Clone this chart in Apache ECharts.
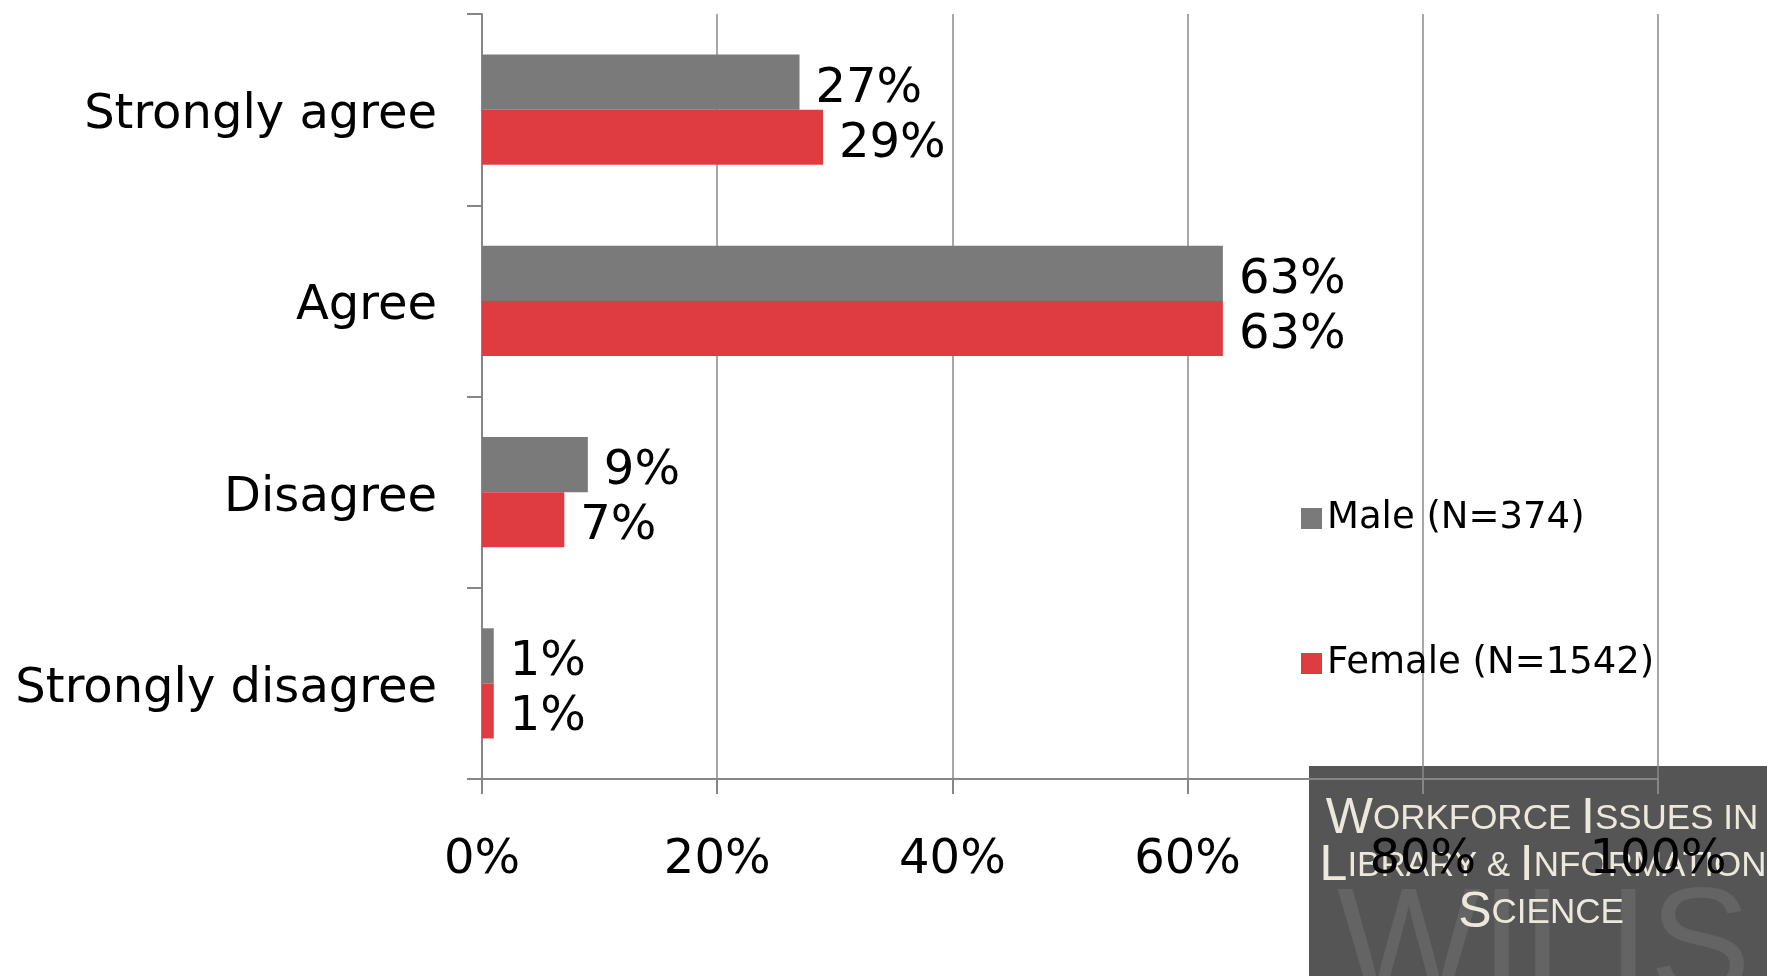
<!DOCTYPE html>
<html>
<head>
<meta charset="utf-8">
<script src="https://cdn.jsdelivr.net/npm/echarts@6/dist/echarts.min.js"></script>
<style>
html,body{margin:0;padding:0;background:#fff;}
#chart{width:1767px;height:976px;}
</style>
</head>
<body>
<div id="chart"></div>
<script>
const categories = ['Strongly agree', 'Agree', 'Disagree', 'Strongly disagree'];
const maleName = 'Male (N=374)';
const femaleName = 'Female (N=1542)';
const maleValues = [27, 63, 9, 1];
const femaleValues = [29, 63, 7, 1];
const xTicks = [0, 20, 40, 60, 80, 100];

const FONT = 'DejaVu Sans';
const chart = echarts.init(document.getElementById('chart'));
const cream = '#ece8dc';
const WMFONT = 'Liberation Sans';
const rich = {
  b: {fontSize: 50, fontFamily: WMFONT, fill: cream, lineHeight: 50},
  s: {fontSize: 35, fontFamily: WMFONT, fill: cream, lineHeight: 42}
};
chart.setOption({
  backgroundColor: '#ffffff',
  animation: false,
  grid: {left: 482, right: 109, top: 14, bottom: 197, containLabel: false},
  legend: {
    orient: 'vertical', left: 1296, top: 495,
    itemWidth: 21, itemHeight: 21, itemGap: 108, icon: 'rect',
    textStyle: {fontFamily: FONT, fontSize: 37, color: '#000'},
    data: [maleName, femaleName]
  },
  xAxis: {
    type: 'value', min: xTicks[0], max: xTicks[xTicks.length - 1], interval: 20,
    axisLine: {show: true, lineStyle: {color: '#868686', width: 2}},
    axisTick: {show: true, length: 15, lineStyle: {color: '#868686', width: 2}},
    splitLine: {show: true, lineStyle: {color: '#8a8a8a', width: 1.5}},
    axisLabel: {formatter: '{value}%', fontFamily: FONT, fontSize: 48, color: '#000', margin: 58}
  },
  yAxis: {
    type: 'category', data: categories, inverse: true,
    axisLine: {show: true, lineStyle: {color: '#868686', width: 2}},
    axisTick: {show: true, length: 15, lineStyle: {color: '#868686', width: 2}},
    axisLabel: {
      margin: 45,
      formatter: v => '{a|' + v + '}',
      rich: {a: {fontFamily: FONT, fontSize: 48, color: '#000', padding: [12, 0, 0, 0]}}
    }
  },
  series: [
    {name: maleName, type: 'bar', data: maleValues, barGap: '0%', barCategoryGap: '42.4%',
     itemStyle: {color: '#7a7a7a'},
     label: {show: true, position: 'right', distance: 16, offset: [0, 7], formatter: '{c}%', fontFamily: FONT, fontSize: 48, color: '#000'}},
    {name: femaleName, type: 'bar', data: femaleValues, barGap: '0%', barCategoryGap: '42.4%',
     itemStyle: {color: '#de3c41'},
     label: {show: true, position: 'right', distance: 16, offset: [0, 7], formatter: '{c}%', fontFamily: FONT, fontSize: 48, color: '#000'}}
  ],
  graphic: {
    elements: [
      {type: 'rect', z: -1, shape: {x: 1309, y: 766, width: 458, height: 210}, style: {fill: '#555555'}, silent: true},
      {type: 'text', z: -1, x: 1337, y: 952, silent: true,
       style: {text: 'WILIS', fontFamily: 'Liberation Sans', fontSize: 152, fill: '#646464', verticalAlign: 'middle', align: 'left'}},
      {type: 'text', z: -1, x: 1542, y: 819, silent: true,
       style: {text: '{b|W}{s|ORKFORCE }{b|I}{s|SSUES IN}', rich: rich, align: 'center', verticalAlign: 'middle'}},
      {type: 'text', z: -1, x: 1543, y: 866, silent: true,
       style: {text: '{b|L}{s|IBRARY & }{b|I}{s|NFORMATION}', rich: rich, align: 'center', verticalAlign: 'middle'}},
      {type: 'text', z: -1, x: 1541, y: 913, silent: true,
       style: {text: '{b|S}{s|CIENCE}', rich: rich, align: 'center', verticalAlign: 'middle'}}
    ]
  }
});
</script>
</body>
</html>
